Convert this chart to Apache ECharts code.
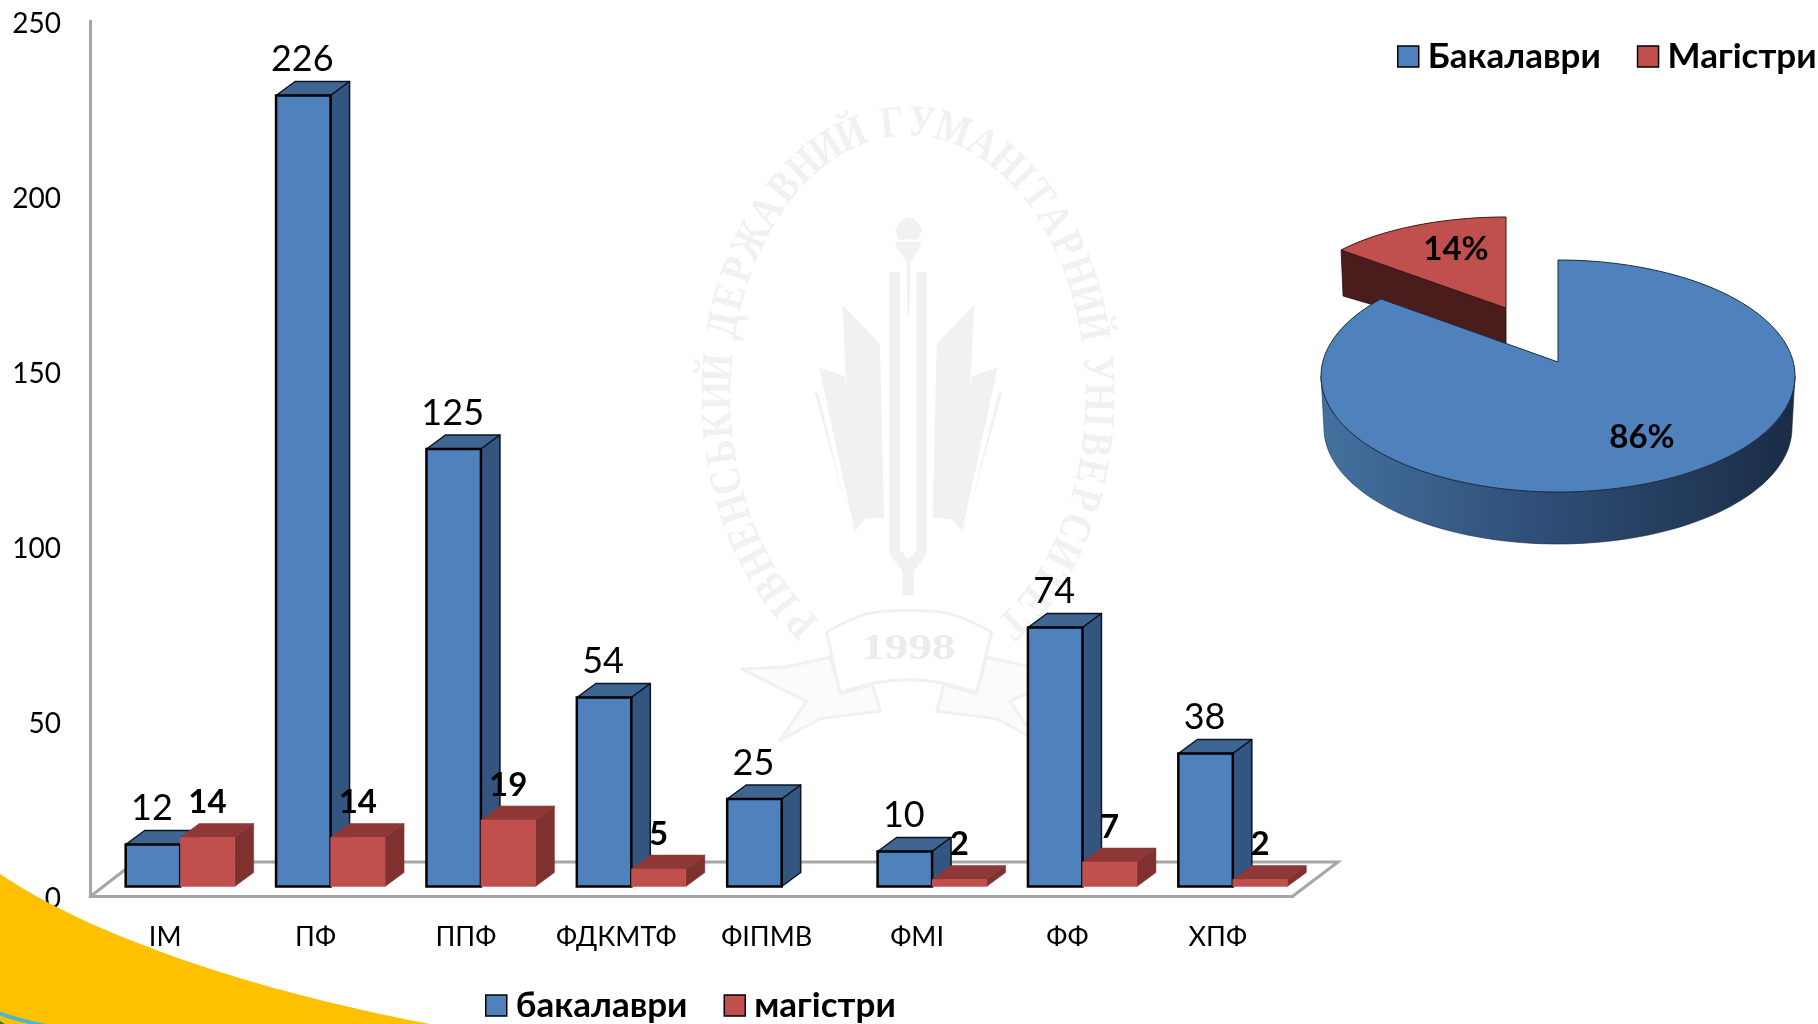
<!DOCTYPE html>
<html><head><meta charset="utf-8">
<style>html,body{margin:0;padding:0;background:#fff}#c{width:1818px;height:1024px}</style>
<script src="https://cdn.jsdelivr.net/npm/echarts@6/dist/echarts.min.js"></script>
</head><body><div id="c"></div>
<script>
const categories = ['ІМ','ПФ','ППФ','ФДКМТФ','ФІПМВ','ФМІ','ФФ','ХПФ'];
const bachelors = [12,226,125,54,25,10,74,38];
const masters = [14,14,19,5,null,2,7,2];
const yTicksMax = 250;
const shareNames = ['Бакалаври','Магістри'];
const shareValues = [86,14];
const watermarkText = 'РІВНЕНСЬКИЙ ДЕРЖАВНИЙ ГУМАНІТАРНИЙ УНІВЕРСИТЕТ';

const FONT = 'Lato, Carlito, sans-serif';
const WM = '#f1f1f1';
const chart = echarts.init(document.getElementById('c'), null, {renderer:'canvas'});

/* ---------- projection of the bars into the pseudo 3D floor ---------- */
const BAR_W = 54.5, DEPTH_X = 19, DEPTH_Y = 14, SHIFT_X = 15, SHIFT_Y = -9.5;
function bar3d(side, palette, labelFont, labelGap, lineW){
  return function(params, api){
    const v = api.value(1);
    if (v == null || isNaN(v)) return null;
    const i = api.value(0);
    const top = api.coord([i, v]), base = api.coord([i, 0]);
    const x0 = top[0] + SHIFT_X + (side < 0 ? -BAR_W : 0), x1 = x0 + BAR_W;
    const y0 = top[1] + SHIFT_Y, y1 = base[1] + SHIFT_Y;
    const st = c => ({fill:c, stroke:lineW ? '#0b1420' : c, lineWidth:lineW ? 1.5 : 0.5, lineJoin:'round'});
    return {type:'group', children:[
      {type:'polygon', shape:{points:[[x0,y0],[x0+DEPTH_X,y0-DEPTH_Y],[x1+DEPTH_X,y0-DEPTH_Y],[x1,y0]]}, style:st(palette.top)},
      {type:'polygon', shape:{points:[[x1,y0],[x1+DEPTH_X,y0-DEPTH_Y],[x1+DEPTH_X,y1-DEPTH_Y],[x1,y1]]}, style:st(palette.side)},
      {type:'rect', shape:{x:x0,y:y0,width:BAR_W,height:y1-y0},
        style:{fill:palette.front, stroke:lineW ? '#000' : palette.front, lineWidth:lineW || 0.5}},
      {type:'text', z2:50, x:(x0+x1)/2 - (lineW ? 1 : 0), y:y0-labelGap,
        style:{text:String(v), font:labelFont, fill:'#000', align:'center', verticalAlign:'middle'}}
    ]};
  };
}

/* ---------- pseudo 3D pie slices ---------- */
const TOTAL = shareValues.reduce((a,b)=>a+b,0);
const startOf = idx => shareValues.slice(0,idx).reduce((a,b)=>a+b,0) / TOTAL * 2*Math.PI;
const endOf = idx => startOf(idx) + shareValues[idx] / TOTAL * 2*Math.PI;
function ellipsePts(cx,cy,rx,ry,a0,a1,n){
  const pts=[]; for(let k=0;k<=n;k++){const t=a0+(a1-a0)*k/n; pts.push([cx+rx*Math.sin(t), cy-ry*Math.cos(t)]);}
  return pts;
}
function renderBlue(params, api){
  const a1 = endOf(0), v = api.value(1);
  const cx=1558, cy=376, rx=237, ry=116, h=52, tip=[1558,362], ryBack=102;
  // perspective: the far half of the disc is foreshortened, so a ray from the
  // projected centre meets the outer ellipse slightly past its nominal angle.
  const dx=rx*Math.sin(a1), dy=-ryBack*Math.cos(a1), oy=tip[1]-cy;
  const A=(dx/rx)*(dx/rx)+(dy/ry)*(dy/ry), B=2*oy*dy/(ry*ry), C=(oy/ry)*(oy/ry)-1;
  const s=(-B+Math.sqrt(B*B-4*A*C))/(2*A);
  const ex=s*dx, ey=oy+s*dy;
  let aEnd=Math.atan2(ex/rx,-ey/ry); if(aEnd<0) aEnd+=2*Math.PI;
  const wallTop = ellipsePts(cx,cy,rx,ry,Math.PI/2,3*Math.PI/2,80);
  const wallBot = ellipsePts(cx,cy+h,rx-3,ry,3*Math.PI/2,Math.PI/2,80);
  const grad = new echarts.graphic.LinearGradient(0,0,1,0,[
    {offset:0,color:'#44719f'},{offset:.45,color:'#2f4f78'},{offset:1,color:'#1a2c45'}]);
  return {type:'group', children:[
    {type:'polygon', shape:{points:wallTop.concat(wallBot)}, style:{fill:grad, stroke:'#1a2a40', lineWidth:0.6}},
    {type:'polygon', shape:{points:[tip].concat(ellipsePts(cx,cy,rx,ry,0,aEnd,160))},
      style:{fill:'#4f81bd', stroke:'#1c2c40', lineWidth:1}},
    {type:'text', z2:50, x:1642, y:437, style:{text:v+'%', font:'bold 33px '+FONT, fill:'#000', align:'center', verticalAlign:'middle'}}
  ]};
}
function renderRed(params, api){
  const a0 = startOf(1), a1 = endOf(1), v = api.value(1);
  const tip=[1506,308], rx=214, ry=91, h=36;
  const p0 = ellipsePts(tip[0],tip[1],rx,ry,a0,a0,1)[0];
  return {type:'group', children:[
    {type:'polygon', shape:{points:[p0,tip,[tip[0],tip[1]+h],[p0[0]+2,p0[1]+h+10]]},
      style:{fill:'#4a1c1b', stroke:'#1e0b0b', lineWidth:0.8}},
    {type:'polygon', shape:{points:[tip].concat(ellipsePts(tip[0],tip[1],rx,ry,a0,a1,40))},
      style:{fill:'#c0504d', stroke:'#3a1514', lineWidth:1}},
    {type:'text', z2:50, x:1456, y:249, style:{text:v+'%', font:'bold 33px '+FONT, fill:'#000', align:'center', verticalAlign:'middle'}}
  ]};
}

/* ---------- background decoration: watermark, swoosh, floor ---------- */
const Z = (x,y)=>[680+x/3, 90+y/2.306];
const poly = (arr,fill)=>({type:'polygon', z:1, silent:true, shape:{points:arr.map(p=>Z(p[0],p[1]))}, style:{fill:fill||WM}});
const pline = (arr,w)=>({type:'polyline', z:1, silent:true, shape:{points:arr.map(p=>Z(p[0],p[1])), smooth:0.35}, style:{fill:null, stroke:WM, lineWidth:w||3}});
const outline = arr=>({type:'polygon', z:1, silent:true, shape:{points:arr.map(p=>Z(p[0],p[1]))}, style:{fill:'#fbfbfb', stroke:WM, lineWidth:3, lineJoin:'round'}});
function mirror(arr){ return arr.map(p=>[1370-p[0],p[1]]); }
function watermark(){
  const out=[];
  const cx=908, cy=395, rx=189, ry=271, a0=-146.5*Math.PI/180, a1=146.5*Math.PI/180;
  const N=800, lens=[0]; let prev=null;
  for(let k=0;k<=N;k++){const t=a0+(a1-a0)*k/N, p=[rx*Math.sin(t),-ry*Math.cos(t)];
    if(prev) lens.push(lens[lens.length-1]+Math.hypot(p[0]-prev[0],p[1]-prev[1])); prev=p;}
  const L=lens[N], chars=[...watermarkText];
  const adv=c=>c===' '?0.45:c==='І'?0.6:(c==='Ж'||c==='М')?1.3:1;
  const sum=chars.reduce((a,c)=>a+adv(c),0)-adv(chars[0])/2-adv(chars[chars.length-1])/2;
  let run=-adv(chars[0])/2;
  chars.forEach((ch)=>{
    const mid=run+adv(ch)/2; run+=adv(ch);
    if(ch===' ') return;
    const s=L*mid/sum; let k=0; while(k<N && lens[k]<s) k++;
    const t=a0+(a1-a0)*k/N;
    const tx=rx*Math.cos(t), ty=ry*Math.sin(t);
    out.push({type:'text', z:1, silent:true, x:cx+rx*Math.sin(t), y:cy-ry*Math.cos(t),
      rotation:-Math.atan2(ty,tx), scaleY:1.2,
      style:{text:ch, font:'bold 37px "Liberation Serif", serif', fill:WM, align:'center', verticalAlign:'middle'}});
  });
  const bigL=[[487,495],[600,585],[612,985],[555,990],[522,1020]];
  const smallL=[[417,640],[495,660],[548,985],[522,1012]];
  const thinL=[[403,695],[415,700],[512,1005],[520,1022]];
  [bigL,smallL,thinL].forEach(a=>{out.push(poly(a)); out.push(poly(mirror(a)));});
  // tuning fork
  out.push(poly([[628,420],[660,420],[660,1060],[685,1082],[710,1060],[710,420],[740,420],[740,1070],[702,1110],[702,1165],[668,1165],[668,1110],[628,1070]]));
  // torch
  out.push(poly([[680,395],[650,365],[645,350],[725,350],[718,365],[692,395],[688,520],[682,520]]));
  out.push(poly([[645,320],[665,300],[685,293],[705,300],[727,320],[715,345],[655,345]]));
  // ribbon
  const tail=[[450,1308],[320,1330],[185,1335],[300,1380],[380,1410],[300,1500],[420,1450],[600,1432],[578,1372],[482,1392]];
  out.push(outline(tail)); out.push(outline(mirror(tail)));
  out.push(pline([[440,1250],[560,1208],[685,1200],[810,1208],[935,1250]]));
  out.push(pline([[480,1390],[580,1368],[685,1360],[790,1368],[890,1390]]));
  out.push(pline([[440,1250],[480,1390]],3));
  out.push(pline([[935,1250],[890,1390]],3));
  const c=Z(685,1290);
  out.push({type:'text', z:1, silent:true, x:c[0], y:c[1], scaleY:0.78, style:{text:'1998', font:'bold 47px "Liberation Serif", serif', fill:'#ebebeb', align:'center', verticalAlign:'middle'}});
  return out;
}
function bezierPts(p0,p1,p2,p3,n){
  const out=[];
  for(let k=0;k<=n;k++){const t=k/n,u=1-t;
    out.push([0,1].map(d=>u*u*u*p0[d]+3*u*u*t*p1[d]+3*u*t*t*p2[d]+t*t*t*p3[d]));}
  return out;
}
const floor = {type:'polyline', z:2, silent:true, shape:{points:[[91,896],[135,862],[1338,862],[1293,896]]},
  style:{fill:null, stroke:'#a6a6a6', lineWidth:3}};
const swoosh = {type:'polygon', z:3, silent:true,
  shape:{points:bezierPts([0,874],[90,935],[250,990],[430,1024],40).concat([[0,1024]])}, style:{fill:'#ffc000'}};
const sliver = {type:'polyline', z:4, silent:true,
  shape:{points:bezierPts([-2,1013],[12,1018],[28,1022],[46,1026],10)}, style:{fill:null, stroke:'#4cb7d0', lineWidth:4}};
const cornerDark = {type:'polygon', z:4, silent:true,
  shape:{points:[[0,1021],[5,1024],[0,1024]]}, style:{fill:'#2f7f4f'}};

const legendBase = {icon:'rect', itemWidth:21, itemHeight:21, padding:0, width:470,
  itemStyle:{borderColor:'#000', borderWidth:1.5},
  selectedMode:false,
  textStyle:{fontFamily:FONT, fontWeight:'bold', fontSize:35, color:'#000', padding:[0,0,0,4]}};

chart.setOption({
  animation:false,
  backgroundColor:'#fff',
  graphic:{elements:[...watermark(), floor, swoosh, sliver, cornerDark]},
  grid:[
    {left:90, right:525, top:21, bottom:128, containLabel:false},
    {left:1300, top:200, width:500, height:350, show:false}
  ],
  xAxis:[
    {type:'category', data:categories,
    axisLine:{show:true, lineStyle:{color:'#a6a6a6', width:3}}, axisTick:{show:false},
    axisLabel:{fontFamily:FONT, fontSize:27, color:'#000', margin:28, interval:0}, splitLine:{show:false}},
    {type:'category', gridIndex:1, data:shareNames, show:false}
  ],
  yAxis:[
    {type:'value', min:0, max:yTicksMax, interval:50,
    axisLine:{show:true, lineStyle:{color:'#a6a6a6', width:3}}, axisTick:{show:false}, splitLine:{show:false},
    axisLabel:{fontFamily:FONT, fontSize:28, color:'#000', margin:29, verticalAlign:'top', lineHeight:5}},
    {type:'value', gridIndex:1, min:0, max:100, show:false}
  ],
  legend:[
    Object.assign({}, legendBase, {data:['бакалаври','магістри'], left:485, top:988, itemGap:36}),
    Object.assign({}, legendBase, {data:shareNames, left:1397, top:39, itemGap:36})
  ],
  series:[
    {name:'бакалаври', type:'custom', z:5, itemStyle:{color:'#4f81bd'},
      encode:{x:0,y:1}, data:bachelors.map((v,i)=>[i,v]),
      renderItem:bar3d(-1,{front:'#4f81bd',side:'#335580',top:'#3f6593'},'36px '+FONT,36,2.5)},
    {name:'магістри', type:'custom', z:6, itemStyle:{color:'#c0504d'},
      encode:{x:0,y:1}, data:masters.map((v,i)=>[i,v]),
      renderItem:bar3d(1,{front:'#c0504d',side:'#7f3130',top:'#8f3837'},'bold 33px '+FONT,35,0)},
    {name:shareNames[1], type:'custom', z:5, xAxisIndex:1, yAxisIndex:1, itemStyle:{color:'#c0504d'},
      encode:{x:0,y:1}, data:[[1,shareValues[1]]], renderItem:renderRed},
    {name:shareNames[0], type:'custom', z:6, xAxisIndex:1, yAxisIndex:1, itemStyle:{color:'#4f81bd'},
      encode:{x:0,y:1}, data:[[0,shareValues[0]]], renderItem:renderBlue}
  ]
});
</script></body></html>
